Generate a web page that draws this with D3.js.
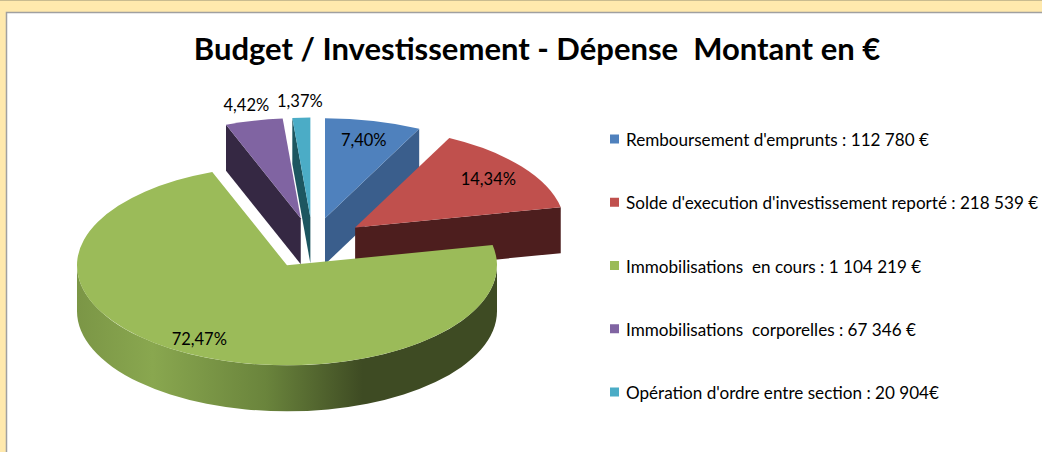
<!DOCTYPE html>
<html>
<head>
<meta charset="utf-8">
<script src="https://cdn.jsdelivr.net/npm/d3@7"></script>
<style>
  html, body { margin: 0; padding: 0; background: #ffe9ad; overflow: hidden; width: 1042px; height: 452px; }
  ::-webkit-scrollbar { display: none; width: 0; }
  svg { display: block; position: absolute; left: 0; top: 0; }
  text { font-family: Lato, "Open Sans", sans-serif; white-space: pre; }
</style>
</head>
<body>
<script>
// data
const categories = [
  "Remboursement d'emprunts",
  "Solde d'execution d'investissement reporté",
  "Immobilisations en cours",
  "Immobilisations corporelles",
  "Opération d'ordre entre section"
];
const amounts = [112780, 218539, 1104219, 67346, 20904];
const legendLabels = [
  "Remboursement d'emprunts : 112 780 €",
  "Solde d'execution d'investissement reporté : 218 539 €",
  "Immobilisations  en cours : 1 104 219 €",
  "Immobilisations  corporelles : 67 346 €",
  "Opération d'ordre entre section : 20 904€"
];
const titleText = "Budget / Investissement - Dépense  Montant en €";

const topColors = ["#4f81bd", "#c0504d", "#9bbb59", "#8064a2", "#4bacc6"];
const sideColors = ["#3a5e8c", "#4d1e1e", "#566b2c", "#352843", "#1d5660"];

const W = 1042, H = 452;
const cx = 312.7, cy = 243;   // pie centre (top plane)
const rx = 210, ry = 100;     // ellipse radii
const depth = 46;
const explode = 53.5;

const svg = d3.select('body').append('svg')
  .attr('width', W).attr('height', H);

// frame
svg.append('line').attr('x1', 0).attr('x2', W).attr('y1', 0.5).attr('y2', 0.5)
  .attr('stroke', '#c9bb8f');
svg.append('rect').attr('x', 6.5).attr('y', 12.5).attr('width', W + 20).attr('height', H + 20)
  .attr('fill', '#fff').attr('stroke', '#a0a0a0').attr('stroke-width', 1.5);

svg.append('text')
  .attr('x', 537).attr('y', 60)
  .attr('text-anchor', 'middle')
  .attr('font-size', 31).attr('font-weight', 'bold')
  .attr('fill', '#000')
  .text(titleText);

const total = d3.sum(amounts);
const pct = d3.format('.2f');
const pie = d3.pie().sort(null).value(d => d);
const arcs = pie(amounts).map((d, i) => {
  const mid = (d.startAngle + d.endAngle) / 2;
  return {
    i: i,
    a0: d.startAngle,
    a1: d.endAngle,
    mid: mid,
    ox: cx + explode * Math.sin(mid),
    oy: cy - explode * (ry / rx) * Math.cos(mid),
    p: d.value / total
  };
});

const pt = (s, t, r, h) => [s.ox + r * rx * Math.sin(t), s.oy - r * ry * Math.cos(t) + (h || 0)];

const defs = svg.append('defs');
const grad = defs.append('linearGradient').attr('id', 'wallGrad')
  .attr('gradientUnits', 'userSpaceOnUse');
grad.append('stop').attr('offset', 0).attr('stop-color', '#7b9646');
grad.append('stop').attr('offset', 0.18).attr('stop-color', '#89a74f');
grad.append('stop').attr('offset', 0.45).attr('stop-color', '#6a843c');
grad.append('stop').attr('offset', 0.68).attr('stop-color', '#3e4b23');
grad.append('stop').attr('offset', 1).attr('stop-color', '#3e4b23');

const gPie = svg.append('g');
const order = arcs.slice().sort((a, b) => a.oy - b.oy);

order.forEach(s => {
  const g = gPie.append('g');

  // radial faces that face the viewer
  [[s.a0, s.a0 - Math.PI / 2], [s.a1, s.a1 + Math.PI / 2]].forEach(([t, n]) => {
    if (-Math.cos(n) <= 0.01) return;
    const a = pt(s, t, 1), b = pt(s, t, 1, depth);
    const p = d3.path();
    p.moveTo(s.ox, s.oy);
    p.lineTo(a[0], a[1]);
    p.lineTo(b[0], b[1]);
    p.lineTo(s.ox, s.oy + depth);
    p.closePath();
    g.append('path').attr('d', p.toString()).attr('fill', sideColors[s.i]);
  });

  // outer wall (front half only)
  const w0 = Math.max(s.a0, Math.PI / 2), w1 = Math.min(s.a1, 3 * Math.PI / 2);
  if (w1 > w0) {
    const a = pt(s, w0, 1), b = pt(s, w1, 1), c = pt(s, w1, 1, depth), e = pt(s, w0, 1, depth);
    const big = (w1 - w0) > Math.PI ? 1 : 0;
    const d = `M${a[0]},${a[1]} A${rx},${ry} 0 ${big} 1 ${b[0]},${b[1]}` +
      ` L${c[0]},${c[1]} A${rx},${ry} 0 ${big} 0 ${e[0]},${e[1]} Z`;
    if (s.i === 2) grad.attr('x1', s.ox - rx).attr('x2', s.ox + rx).attr('y1', 0).attr('y2', 0);
    g.append('path').attr('d', d)
      .attr('fill', s.i === 2 ? 'url(#wallGrad)' : sideColors[s.i]);
  }

  // top face
  const a = pt(s, s.a0, 1), b = pt(s, s.a1, 1);
  const big = (s.a1 - s.a0) > Math.PI ? 1 : 0;
  g.append('path')
    .attr('d', `M${s.ox},${s.oy} L${a[0]},${a[1]} A${rx},${ry} 0 ${big} 1 ${b[0]},${b[1]} Z`)
    .attr('fill', topColors[s.i]);
});

// percentage labels
arcs.forEach(s => {
  const inside = s.p > 0.05;
  const r = inside ? 0.8 : 1.16;
  const q = pt(s, s.mid, r);
  svg.append('text')
    .attr('x', q[0] - (s.p > 0.5 ? 7 : 0)).attr('y', q[1] + (s.p > 0.5 ? 4 : 0))
    .attr('dy', '0.35em')
    .attr('text-anchor', 'middle')
    .attr('font-size', 16.5)
    .attr('fill', '#000')
    .text(pct(s.p * 100).replace('.', ',') + '%');
});

// legend
const ly = d3.scalePoint().domain(d3.range(categories.length)).range([140, 393]);
const leg = svg.append('g').selectAll('g').data(categories).join('g')
  .attr('transform', (d, i) => `translate(610,${ly(i)})`);
leg.append('rect').attr('x', 0).attr('y', -5.5).attr('width', 9).attr('height', 9)
  .attr('fill', (d, i) => topColors[i]);
leg.append('text').attr('x', 16).attr('y', 0).attr('dy', '0.35em')
  .attr('font-size', 17.1).attr('fill', '#000')
  .text((d, i) => legendLabels[i]);
</script>
</body>
</html>
